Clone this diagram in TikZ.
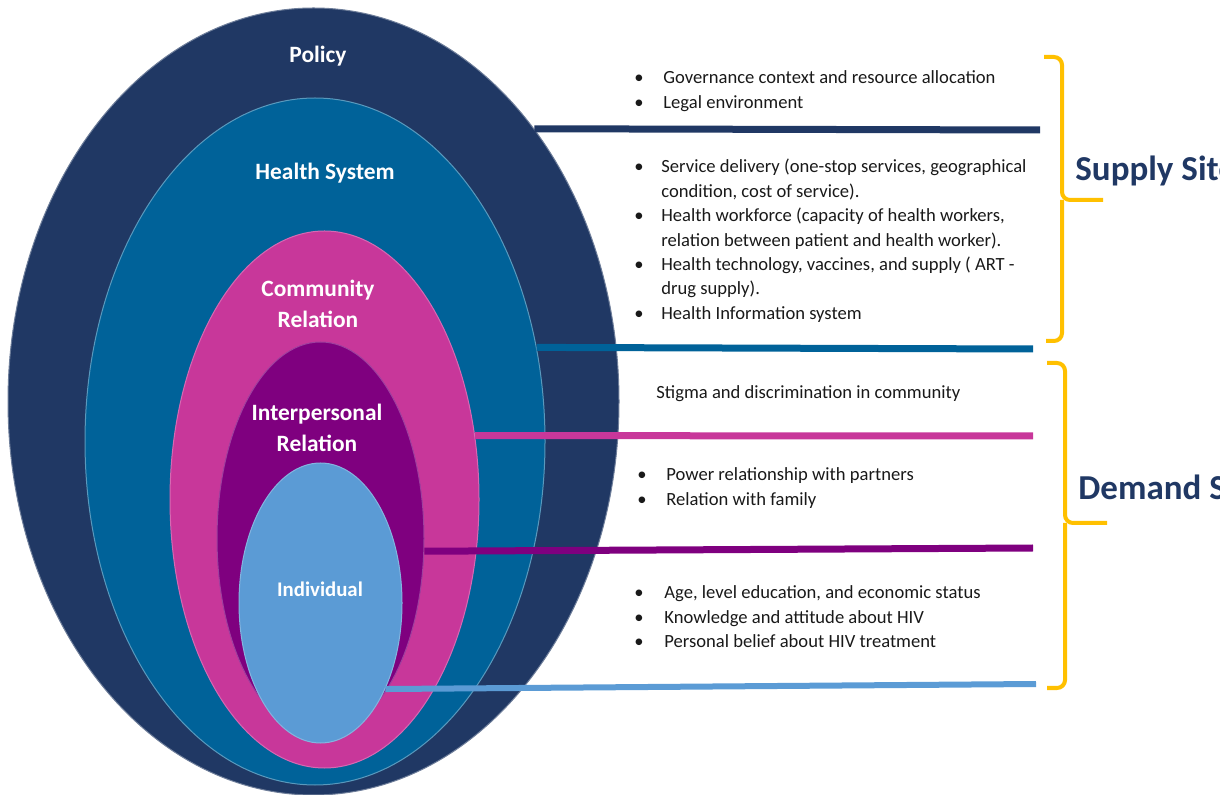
\documentclass[tikz,border=0pt]{standalone}
\usepackage{fontspec}
\setmainfont{Carlito}
\usepackage{tikz}
\usetikzlibrary{shapes.geometric}
\definecolor{policyblue}{HTML}{203864}
\definecolor{healthblue}{HTML}{006299}
\definecolor{communitypink}{HTML}{C8379A}
\definecolor{interpurple}{HTML}{7F007F}
\definecolor{individualblue}{HTML}{5B9BD5}
\definecolor{bracegold}{HTML}{FFC000}

\begin{document}
\begin{tikzpicture}[x=0.5pt,y=-0.5pt,
  layer/.style={ellipse,inner sep=0pt,line width=0.5pt},
  ringlabel/.style={text=white,font=\fontsize{11.7}{15.5}\selectfont\bfseries,align=center,inner sep=0pt},
  tie/.style={line width=3.5pt},
  brace/.style={draw=bracegold,line width=2pt,rounded corners=4pt},
  sidetitle/.style={text=policyblue,font=\fontsize{17.5}{20}\selectfont\bfseries,anchor=base west,inner sep=0pt},
  factors/.style={anchor=base west,inner sep=0pt,text=black!90,font=\fontsize{9.3}{12.2}\selectfont}]
\useasboundingbox (0,0) rectangle (1220,795);
\clip (0,0) rectangle (1220,795);
%%%LAYERS
\node[layer,fill=policyblue,draw=policyblue!65!white,minimum width=305.5pt,minimum height=393.5pt] (policy) at (313.5,401.5) {};
\node[layer,fill=healthblue,draw=healthblue!65!white,minimum width=230pt,minimum height=343.5pt] (health) at (315,441.5) {};
\node[layer,fill=communitypink,draw=communitypink!75!white,minimum width=154.5pt,minimum height=268.5pt] (community) at (324.5,499.5) {};
\node[layer,fill=interpurple,draw=interpurple!75!white,minimum width=103.5pt,minimum height=196.5pt] (interpersonal) at (320.5,538.5) {};
\node[layer,fill=individualblue,draw=individualblue!75!white,minimum width=81.5pt,minimum height=140pt] (individual) at (320.5,603) {};
%%%LAYER NAMES
\node[ringlabel,anchor=base] (policyname) at (318,63) {Policy};
\node[ringlabel,anchor=base] (healthname) at (325,180) {Health System};
\node[ringlabel] (communityname) at (318,304) {Community\\Relation};
\node[ringlabel] (interpersonalname) at (317,428) {Interpersonal\\Relation};
\node[ringlabel,anchor=base,font=\fontsize{10.4}{12}\selectfont\bfseries] (individualname) at (320,597) {Individual};
%%%TIES
\coordinate (policyend) at (1040,130);
\coordinate (healthend) at (1033,349);
\coordinate (communityend) at (1033,436);
\coordinate (interpersonalend) at (1033,548);
\coordinate (individualend) at (1036,684);
\draw[tie,policyblue] (policy.51) -- (policyend);
\draw[tie,healthblue] (health.23) -- (healthend);
\draw[tie,communitypink] (community.23) -- (communityend);
\draw[tie,interpurple] (interpersonal.-7) -- (interpersonalend);
\draw[tie,individualblue,line width=3pt] (individual.-53) -- (individualend);
%%%FACTORS
\node[factors] (policyfactors) at (634,84) {\begin{tabular}[t]{@{}p{14.5pt}@{}l@{}}
\textbullet & Governance context and resource allocation\\
\textbullet & Legal environment
\end{tabular}};
\node[factors] (healthfactors) at (634,173) {\begin{tabular}[t]{@{}p{13.5pt}@{}l@{}}
\textbullet & Service delivery (one-stop services, geographical\\
 & condition, cost of service).\\
\textbullet & Health workforce (capacity of health workers,\\
 & relation between patient and health worker).\\
\textbullet & Health technology, vaccines, and supply ( ART -\\
 & drug supply).\\
\textbullet & Health Information system
\end{tabular}};
\node[factors] (communityfactors) at (656,399) {Stigma and discrimination in community};
\node[factors] (interpersonalfactors) at (637,481) {\begin{tabular}[t]{@{}p{14.5pt}@{}l@{}}
\textbullet & Power relationship with partners\\
\textbullet & Relation with family
\end{tabular}};
\node[factors] (individualfactors) at (634,599) {\begin{tabular}[t]{@{}p{15pt}@{}l@{}}
\textbullet & Age, level education, and economic status\\
\textbullet & Knowledge and attitude about HIV\\
\textbullet & Personal belief about HIV treatment
\end{tabular}};
%%%BRACES
\coordinate (supplytop) at (1044,57);
\coordinate (supplytip) at (1103,200);
\coordinate (supplybottom) at (1046,341);
\draw[brace] (supplytop) -- (1062,57) -- (1062,200) -- (supplytip);
\draw[brace] (1062,200) -- (1062,341) -- (supplybottom);
\coordinate (demandtop) at (1047,363);
\coordinate (demandtip) at (1107,523);
\coordinate (demandbottom) at (1047,688);
\draw[brace] (demandtop) -- (1065,363) -- (1065,523) -- (demandtip);
\draw[brace] (1065,523) -- (1065,688) -- (demandbottom);
\node[sidetitle] (supplytitle) at (1075,181) {Supply Site};
\node[sidetitle] (demandtitle) at (1078,500) {Demand Side};
\end{tikzpicture}
\end{document}
